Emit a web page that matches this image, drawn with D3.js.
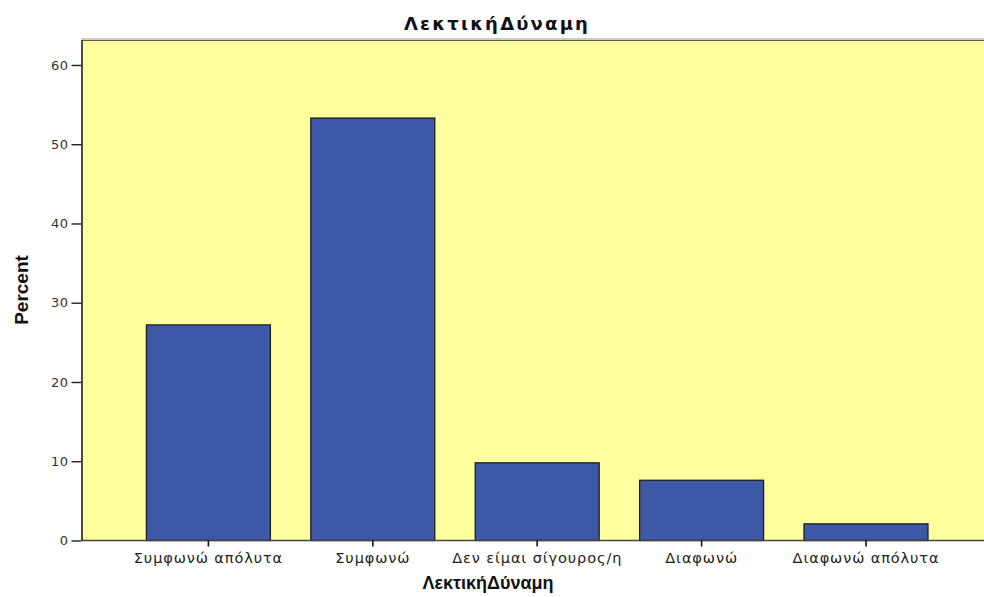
<!DOCTYPE html>
<html>
<head>
<meta charset="utf-8">
<script src="https://cdn.jsdelivr.net/npm/d3@7"></script>
<style>
  body { margin: 0; background: #ffffff; }
  svg { display: block; }
</style>
</head>
<body>
<svg id="chart" width="984" height="597"></svg>
<script>
const categories = ["Συμφωνώ απόλυτα", "Συμφωνώ", "Δεν είμαι σίγουρος/η", "Διαφωνώ", "Διαφωνώ απόλυτα"];
const percents = [27.2, 53.3, 9.8, 7.6, 2.1];
const yTicks = [0, 10, 20, 30, 40, 50, 60];
const titleText = "ΛεκτικήΔύναμη";
const xTitle = "ΛεκτικήΔύναμη";
const yTitle = "Percent";

const svg = d3.select("#chart");
const plot = { left: 81.5, top: 40, right: 990, bottom: 540.5 };

const x = d3.scaleBand()
  .domain(categories)
  .range([126.2, 948.2])
  .paddingInner(0.246)
  .paddingOuter(0.123);

const y = d3.scaleLinear()
  .domain([0, 63.15])
  .range([plot.bottom, plot.top]);

// plot background
svg.append("rect")
  .attr("x", plot.left).attr("y", plot.top)
  .attr("width", plot.right - plot.left).attr("height", plot.bottom - plot.top)
  .attr("fill", "#ffff9e");

// top frame (double grey line)
svg.append("line")
  .attr("x1", plot.left).attr("x2", plot.right)
  .attr("y1", plot.top - 1).attr("y2", plot.top - 1)
  .attr("stroke", "#9a9a8a").attr("stroke-width", 1);
svg.append("line")
  .attr("x1", plot.left).attr("x2", plot.right)
  .attr("y1", plot.top + 0.5).attr("y2", plot.top + 0.5)
  .attr("stroke", "#5a5a50").attr("stroke-width", 1.2);

// bars
svg.append("g").selectAll("rect")
  .data(percents)
  .join("rect")
  .attr("x", (d, i) => x(categories[i]))
  .attr("y", d => y(d))
  .attr("width", x.bandwidth())
  .attr("height", d => y(0) - y(d))
  .attr("fill", "#3e58a8")
  .attr("stroke", "#1e1e1e")
  .attr("stroke-width", 1.3);

// y axis
const yAxis = d3.axisLeft(y).tickValues(yTicks).tickSize(10).tickSizeOuter(0).tickPadding(3).tickFormat(d3.format("d"));
const gy = svg.append("g")
  .attr("transform", `translate(${plot.left},0)`)
  .call(yAxis);
gy.select(".domain").attr("stroke", "#111").attr("stroke-width", 1.5);
gy.selectAll(".tick line").attr("stroke", "#222").attr("stroke-width", 1.4);
gy.selectAll(".tick text")
  .attr("font-family", "DejaVu Sans, Verdana, sans-serif")
  .attr("font-size", 13).attr("letter-spacing", 0.5).attr("fill", "#333");

// x axis
const xAxis = d3.axisBottom(x).tickSize(6).tickPadding(6).tickSizeOuter(0);
const gx = svg.append("g")
  .attr("transform", `translate(0,${plot.bottom})`)
  .call(xAxis);
gx.select(".domain").attr("d", `M${plot.left},0H${plot.right}`).attr("stroke", "#444").attr("stroke-width", 1.3);
gx.selectAll(".tick line").attr("stroke", "#111").attr("stroke-width", 1.6);
gx.selectAll(".tick text")
  .attr("font-family", "DejaVu Sans, Verdana, sans-serif")
  .attr("font-size", 14.5).attr("letter-spacing", 0.9).attr("fill", "#222");

// titles
svg.append("text")
  .attr("x", 497).attr("y", 30)
  .attr("text-anchor", "middle")
  .attr("font-family", "DejaVu Sans, Verdana, sans-serif")
  .attr("font-size", 18).attr("font-weight", "bold").attr("letter-spacing", 2.2).attr("fill", "#111")
  .text(titleText);

svg.append("text")
  .attr("x", 488).attr("y", 589)
  .attr("text-anchor", "middle")
  .attr("font-family", "Liberation Sans, Arial, sans-serif")
  .attr("font-size", 18).attr("font-weight", "bold").attr("fill", "#111")
  .text(xTitle);

svg.append("text")
  .attr("transform", "translate(28,290) rotate(-90)")
  .attr("text-anchor", "middle")
  .attr("font-family", "Liberation Sans Narrow, Liberation Sans, Arial, sans-serif")
  .attr("font-size", 19).attr("font-weight", "bold").attr("fill", "#111")
  .text(yTitle);
</script>
</body>
</html>
